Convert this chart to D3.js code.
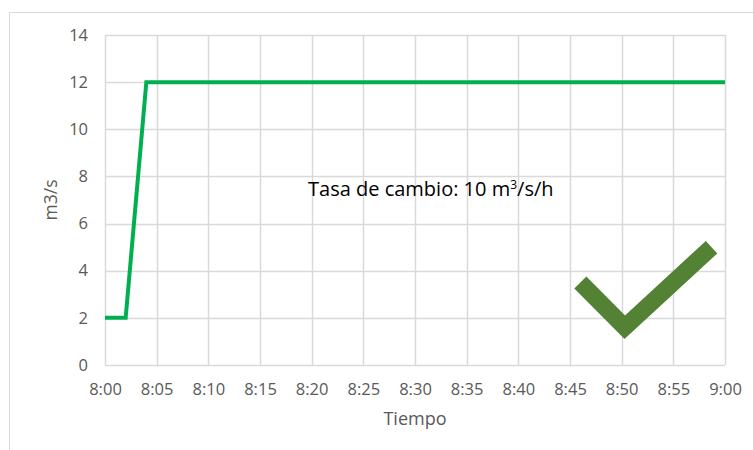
<!DOCTYPE html>
<html>
<head>
<meta charset="utf-8">
<script src="https://cdn.jsdelivr.net/npm/d3@7"></script>
<style>
  body { margin: 0; background: #fff; }
  svg { display: block; font-family: "Open Sans", sans-serif; }
</style>
</head>
<body>
<svg></svg>
<script>
var WIDTH = 753;
var HEIGHT = 450;

// minutes after 8:00 and flow (m3/s)
var minutes = [0, 2, 4, 60];
var flow = [2, 2, 12, 12];
var xTicks = [0, 5, 10, 15, 20, 25, 30, 35, 40, 45, 50, 55, 60];
var xTickLabels = ['8:00', '8:05', '8:10', '8:15', '8:20', '8:25', '8:30', '8:35', '8:40', '8:45', '8:50', '8:55', '9:00'];
var yTicks = [0, 2, 4, 6, 8, 10, 12, 14];
// check mark drawn in data coordinates
var checkX = [46.0, 50.3, 58.7];
var checkY = [3.5, 1.6, 5.0];

var margin = {left: 105, top: 35, right: 28, bottom: 85};

var svg = d3.select('svg')
    .attr('width', WIDTH)
    .attr('height', HEIGHT);

// chart border
svg.append('rect')
    .attr('x', 9.5).attr('y', 12.5)
    .attr('width', WIDTH).attr('height', HEIGHT)
    .attr('fill', 'none')
    .attr('stroke', '#d9d9d9');

var xScale = d3.scaleLinear()
    .domain([0, 60])
    .range([margin.left, WIDTH - margin.right]);
var yScale = d3.scaleLinear()
    .domain([0, 14])
    .range([HEIGHT - margin.bottom, margin.top]);

// grid
svg.append('g').selectAll('line')
    .data(yTicks)
    .enter().append('line')
    .attr('x1', xScale(0)).attr('x2', xScale(60))
    .attr('y1', function(d){ return Math.round(yScale(d)) + 0.5; })
    .attr('y2', function(d){ return Math.round(yScale(d)) + 0.5; })
    .attr('stroke', '#d9d9d9').attr('stroke-width', 1.5);
svg.append('g').selectAll('line')
    .data(xTicks)
    .enter().append('line')
    .attr('y1', yScale(0)).attr('y2', yScale(14))
    .attr('x1', function(d){ return Math.round(xScale(d)) + 0.5; })
    .attr('x2', function(d){ return Math.round(xScale(d)) + 0.5; })
    .attr('stroke', '#d9d9d9').attr('stroke-width', 1.5);

// axes
var leftAxis = d3.axisLeft(yScale).tickValues(yTicks).tickSize(0).tickPadding(17);
var gy = svg.append('g').attr('id', 'left-axis')
    .attr('transform', 'translate(' + margin.left + ',0)')
    .call(leftAxis);
var bottomAxis = d3.axisBottom(xScale).tickValues(xTicks).tickSize(0).tickPadding(18)
    .tickFormat(function(d, i){ return xTickLabels[i]; });
var gx = svg.append('g').attr('id', 'bottom-axis')
    .attr('transform', 'translate(0,' + yScale(0) + ')')
    .call(bottomAxis);
[gx, gy].forEach(function(g){
    g.select('.domain').remove();
    g.selectAll('text')
        .attr('fill', '#595959')
        .style('font-size', '16.5px')
        .style('font-family', '"Open Sans", sans-serif');
});

// flow line
var line = d3.line()
    .x(function(d, i){ return xScale(minutes[i]); })
    .y(function(d){ return yScale(d); });
svg.append('path')
    .datum(flow)
    .attr('d', line)
    .attr('fill', 'none')
    .attr('stroke', '#00b050')
    .attr('stroke-width', 4)
    .attr('stroke-linejoin', 'miter');

// check mark
var checkLine = d3.line()
    .x(function(d, i){ return xScale(checkX[i]); })
    .y(function(d){ return yScale(d); });
svg.append('path')
    .datum(checkY)
    .attr('d', checkLine)
    .attr('fill', 'none')
    .attr('stroke', '#548235')
    .attr('stroke-width', 17)
    .attr('stroke-linejoin', 'miter');

// annotation
var note = svg.append('text')
    .attr('x', 308).attr('y', 196)
    .attr('fill', '#000')
    .style('font-size', '20px');
note.append('tspan').text('Tasa de cambio: 10 m');
note.append('tspan').text('3').attr('dy', -7).style('font-size', '12px');
note.append('tspan').text('/s/h').attr('dy', 7);

// axis titles
svg.append('text')
    .attr('transform', 'translate(57,200) rotate(-90)')
    .attr('text-anchor', 'middle')
    .attr('fill', '#595959')
    .style('font-size', '17.5px')
    .text('m3/s');
svg.append('text')
    .attr('x', xScale(30)).attr('y', 425)
    .attr('text-anchor', 'middle')
    .attr('fill', '#595959')
    .style('font-size', '18px')
    .text('Tiempo');
</script>
</body>
</html>
